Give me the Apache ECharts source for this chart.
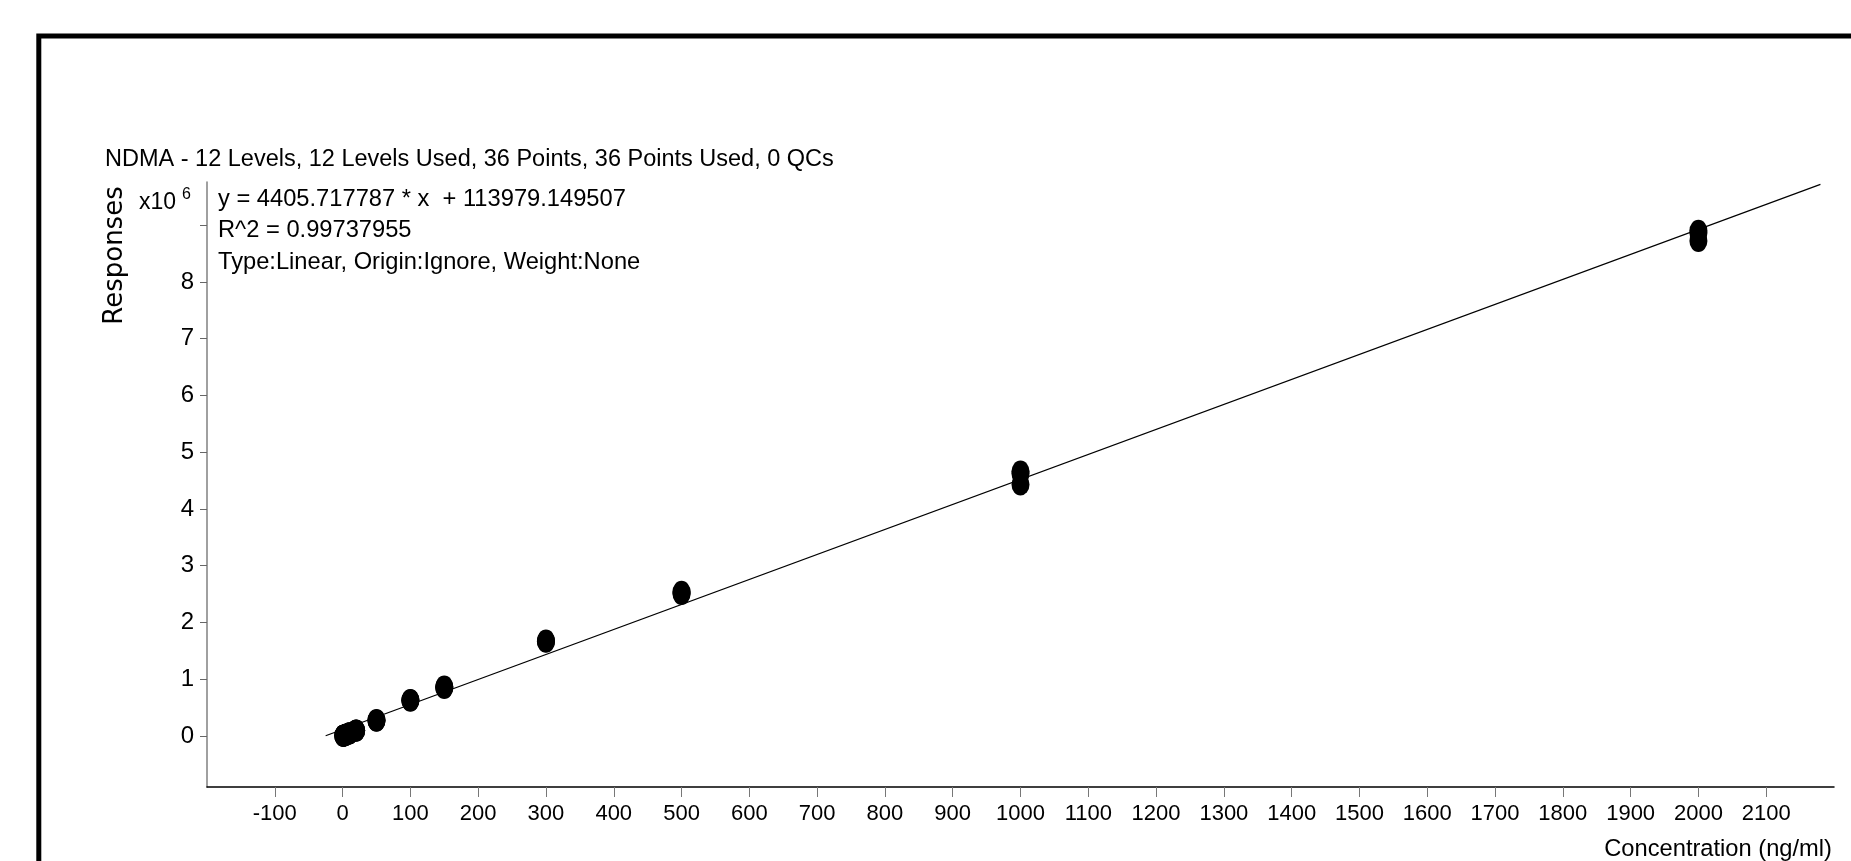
<!DOCTYPE html>
<html>
<head>
<meta charset="utf-8">
<title>NDMA calibration curve</title>
<script src="https://cdn.jsdelivr.net/npm/echarts@6/dist/echarts.min.js"></script>
<style>
  html, body { margin: 0; padding: 0; background: #fff; }
  #chart { width: 1851px; height: 861px; }
</style>
</head>
<body>
<div id="chart"></div>
<script>
// Calibration levels (ng/ml) and the three replicate responses per level
const levels = [1, 2, 5, 10, 20, 50, 100, 150, 300, 500, 1000, 2000];
const replicate1 = [4400, 9500, 23000, 47000, 97000, 282000, 632000, 870000, 1680000, 2540000, 4660000, 8900000];
const replicate2 = [4600, 9000, 22000, 45000, 94000, 272000, 628000, 858000, 1668000, 2520000, 4620000, 8860000];
const replicate3 = [4200, 8800, 21500, 44000, 92000, 266000, 620000, 846000, 1660000, 2500000, 4430000, 8720000];

// Linear fit reported for the curve
const fitSlope = 4405.717787;
const fitIntercept = 113979.149507;
const fitRSquared = '0.99737955';
const fitRange = [-25, 2180];

// Axis ticks and labels
const xTicks = [-100, 0, 100, 200, 300, 400, 500, 600, 700, 800, 900, 1000, 1100, 1200, 1300, 1400, 1500, 1600, 1700, 1800, 1900, 2000, 2100];
const yTicks = [0, 1e6, 2e6, 3e6, 4e6, 5e6, 6e6, 7e6, 8e6, 9e6];
const yLabels = [0, 1e6, 2e6, 3e6, 4e6, 5e6, 6e6, 7e6, 8e6];

const titleText = 'NDMA - 12 Levels, 12 Levels Used, 36 Points, 36 Points Used, 0 QCs';
const equationLines = [
  'y = ' + fitSlope.toFixed(6) + ' * x  + ' + fitIntercept.toFixed(6),
  'R^2 = ' + fitRSquared,
  'Type:Linear, Origin:Ignore, Weight:None'
];

const SANS = '"Liberation Sans", Arial, Helvetica, sans-serif';
const WIDE = '"DejaVu Sans", Verdana, sans-serif';

const points = [];
[replicate1, replicate2, replicate3].forEach(function (rep) {
  levels.forEach(function (c, i) { points.push([c, rep[i]]); });
});
const fitLine = fitRange.map(function (x) { return [x, fitSlope * x + fitIntercept]; });

const chart = echarts.init(document.getElementById('chart'), null, { renderer: 'canvas' });

function textItem(text, x, y, font, align, extra) {
  const item = {
    type: 'text', x: x, y: y, silent: true,
    style: { text: text, fill: '#000', font: font, verticalAlign: 'middle', align: align || 'left' }
  };
  return Object.assign(item, extra || {});
}

chart.setOption({
  animation: false,
  backgroundColor: '#fff',
  grid: { left: 207, right: 17, top: 182, bottom: 74, containLabel: false },
  xAxis: {
    type: 'value',
    min: -200,
    max: 2200,
    interval: 100,
    splitLine: { show: false },
    axisLine: { onZero: false, lineStyle: { color: '#000', width: 1.5 } },
    axisTick: { length: 10, customValues: xTicks, lineStyle: { color: '#777', width: 1 } },
    axisLabel: {
      customValues: xTicks,
      margin: 16,
      color: '#000',
      fontFamily: SANS,
      fontSize: 22,
      formatter: function (v) { return String(v); }
    }
  },
  yAxis: {
    type: 'value',
    min: -900000,
    max: 9760000,
    splitLine: { show: false },
    axisLine: { onZero: false, lineStyle: { color: '#808080', width: 1.5 } },
    axisTick: { length: 7, customValues: yTicks, lineStyle: { color: '#666', width: 1 } },
    axisLabel: {
      customValues: yLabels,
      margin: 13,
      color: '#000',
      fontFamily: SANS,
      fontSize: 24,
      formatter: function (v) { return String(Math.round(v / 1e6)); }
    }
  },
  graphic: [
    {
      type: 'rect',
      silent: true,
      shape: { x: 38.8, y: 36, width: 1900, height: 900 },
      style: { fill: 'none', stroke: '#000', lineWidth: 5 }
    },
    textItem(titleText, 105, 160, '23.5px ' + SANS),
    textItem(equationLines[0], 218, 199, '23.7px ' + SANS),
    textItem(equationLines[1], 218, 230.5, '23.7px ' + SANS),
    textItem(equationLines[2], 218, 262, '23.7px ' + SANS),
    textItem('Responses', 115, 255.5, '26px ' + WIDE, 'center', { rotation: Math.PI / 2 }),
    textItem('x10', 139, 203, '23px ' + SANS),
    textItem('6', 182, 195, '16px ' + SANS),
    textItem('Concentration (ng/ml)', 1832, 849, '23.7px ' + SANS, 'right')
  ],
  series: [
    {
      name: 'Fit',
      type: 'line',
      data: fitLine,
      symbol: 'none',
      silent: true,
      lineStyle: { color: '#000', width: 1.2 },
      z: 2
    },
    {
      name: 'Standards',
      type: 'scatter',
      data: points,
      symbol: 'circle',
      symbolSize: [18, 22],
      itemStyle: { color: '#000', opacity: 1 },
      z: 3
    }
  ]
});
</script>
</body>
</html>
